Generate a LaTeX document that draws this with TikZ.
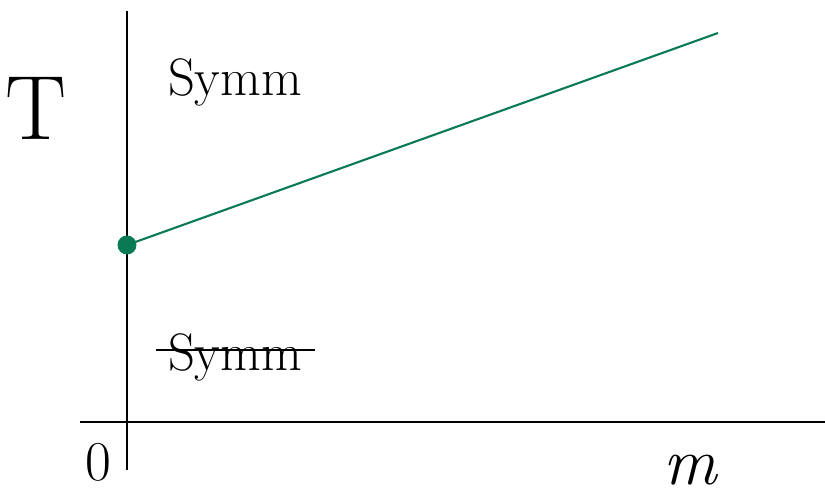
\documentclass[tikz,border=0pt]{standalone}
\usepackage{tikz}
\usetikzlibrary{positioning}
\definecolor{curvegreen}{HTML}{0A7A55}

\begin{document}
\begin{tikzpicture}[
  x=0.02cm, y=-0.02cm,
  axis/.style={draw=black, line width=1.5pt},
  phase/.style={draw=curvegreen, line width=1.2pt},
  crit/.style={circle, fill=curvegreen, inner sep=0pt, minimum size=0.38cm},
  lbl/.style={inner sep=0pt, font=\fontsize{30}{30}\selectfont}]
\useasboundingbox (0,0) rectangle (825,496);
% axes
\coordinate (vtop) at (127,11);
\coordinate (vbot) at (127,470);
\coordinate (hleft) at (80,422);
\coordinate (hright) at (825,422);
\draw[axis] (vtop) -- (vbot);
\draw[axis] (hleft) -- (hright);
% transition line
\node[crit] (tc) at (127,245) {};
\coordinate (tip) at (718,33);
\draw[phase] (tc.center) -- (tip);
% labels
\node[lbl, font=\fontsize{52}{52}\selectfont] (tlab) at (36,108) {T};
\node[lbl] (sym) at (235,82) {Symm};
\node[lbl] (nosym) at (235,357) {Symm};
\coordinate (sl) at (156,350);
\coordinate (sr) at (315,350);
\draw[line width=1.2pt] (sl) -- (sr);
\node[lbl, font=\fontsize{32}{32}\selectfont] (zero) at (98,462) {0};
\node[lbl, font=\fontsize{38}{38}\itshape] (mlab) at (690,470) {m};
\end{tikzpicture}
\end{document}
